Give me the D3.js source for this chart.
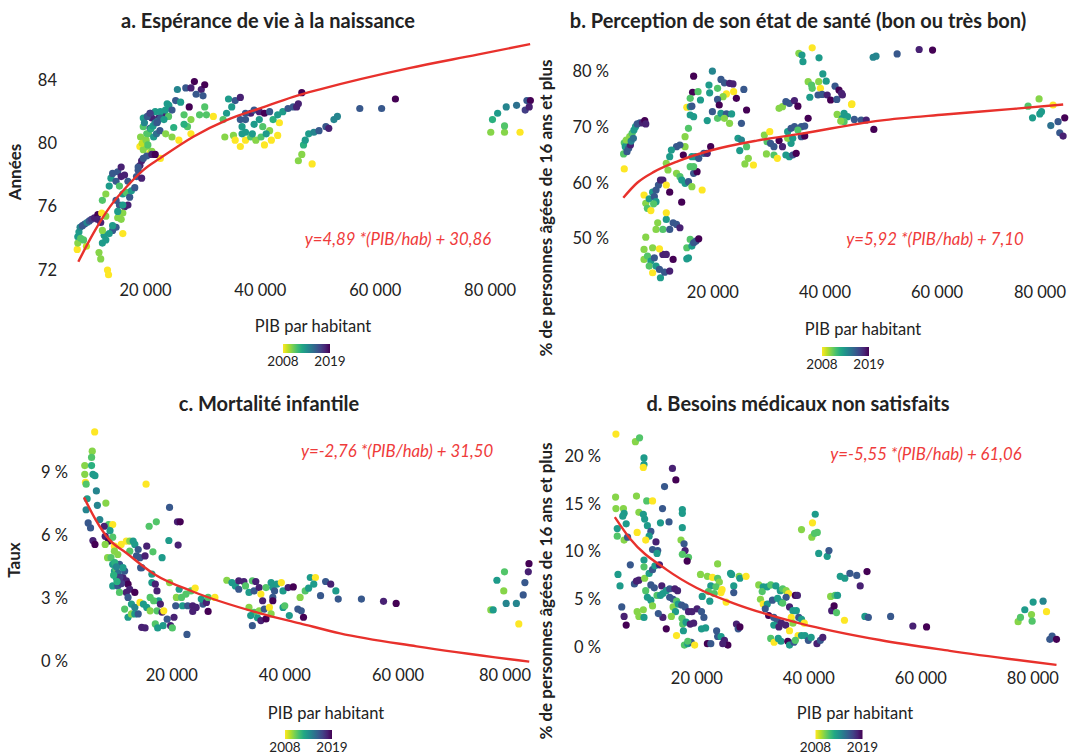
<!DOCTYPE html>
<html>
<head>
<meta charset="utf-8">
<script src="https://cdn.jsdelivr.net/npm/d3@7"></script>
<style>
  body { margin: 0; background: #fff; }
  svg text { font-family: Lato, "Open Sans", sans-serif; fill: #222; }
</style>
</head>
<body>
<div id="chart"></div>
<script>
// tick values
var gdpTicks = [20000, 40000, 60000, 80000];
var ticksA = [72, 76, 80, 84];
var ticksB = [50, 60, 70, 80];
var ticksC = [0, 3, 6, 9];
var ticksD = [0, 5, 10, 15, 20];
var years = [2008, 2019];

// [PIB par habitant, valeur, année]
var esperance = [
  [8300,74.1,2013],[8500,74.4,2013],[8700,74.7,2014],[9100,74.8,2016],[9500,74.9,2016],[9900,75.0,2014],[10300,75.1,2016],[10700,75.2,2017],[11200,75.3,2018],[11800,75.5,2019],
  [8200,73.3,2008],[8300,73.7,2010],[8800,74.0,2011],[9800,73.5,2009],[9300,73.9,2011],
  [12580,76.4,2011],[13180,76.8,2010],[13770,77.3,2013],[14070,77.8,2013],[14360,78.1,2016],[15250,78.2,2016],[15850,78.5,2018],[14960,77.6,2016],[15850,77.9,2018],[16440,78.0,2018],
  [17030,77.6,2016],[15550,77.3,2011],[16140,76.8,2013],[16740,76.9,2011],[17330,76.6,2016],[17630,77.0,2013],[18220,77.2,2016],[18520,77.9,2016],[18810,78.3,2016],[19110,78.6,2018],
  [19410,77.8,2018],[14960,76.4,2016],[15550,76.1,2016],[16440,76.0,2018],[17030,76.1,2018],[16140,75.6,2010],[15850,75.2,2010],[15250,75.3,2010],[14960,74.7,2016],[14360,74.5,2016],
  [13770,74.3,2013],[12880,74.2,2013],[12580,73.7,2013],[13180,73.9,2013],[14360,74.8,2013],[13180,75.4,2010],[12460,75.6,2008],[11690,75.2,2018],[12290,75.0,2018],[12580,74.5,2010],
  [16140,74.3,2008],[15250,75.7,2013],[16140,76.1,2013],[11990,73.1,2010],[12290,72.7,2010],[13470,72.0,2008],[13650,71.7,2008],
  [19110,79.8,2008],[19700,79.6,2010],[20300,79.8,2010],[20890,79.4,2008],[21190,79.5,2010],[22670,79.05,2008],[18810,78.5,2016],[19410,78.9,2018],[20300,79.2,2016],[21190,79.3,2018],[21780,79.3,2019],[19700,79.05,2016],
  [19700,81.6,2013],[19700,81.05,2011],[20300,80.6,2011],[19230,80.4,2010],[20890,80.95,2016],[21780,81.3,2016],[22370,81.6,2018],[23260,81.8,2018],[23560,82.1,2013],[24150,82.4,2013],
  [20890,81.9,2018],[21780,82.0,2013],[22670,82.0,2013],[21190,81.6,2018],[19500,80.0,2009],[20200,80.2,2010],[20600,80.6,2011],[21000,80.9,2012],[21400,81.1,2013],[21800,81.3,2014],
  [22200,81.4,2015],[22700,81.6,2016],[20500,79.9,2011],[21500,80.4,2013],[22000,80.6,2015],[22600,80.8,2016],[19900,81.3,2014],[20400,81.7,2016],[20900,81.9,2017],
  [23860,82.5,2013],[25340,82.7,2016],[25640,83.4,2014],[27100,83.5,2016],[28000,83.5,2018],[28600,83.9,2019],[29800,83.4,2018],[30400,83.7,2019],[28900,83.1,2016],[30100,83.0,2016],
  [30400,82.3,2011],[27700,82.3,2019],[26200,82.6,2013],[24700,82.1,2016],[24100,81.7,2011],[23300,81.5,2013],[22100,81.3,2016],[26800,81.8,2011],[27400,81.05,2011],[28000,81.5,2010],
  [29500,81.8,2011],[30700,81.8,2011],[31900,81.7,2008],[23600,80.6,2010],[24700,80.4,2010],[25900,80.2,2008],[28000,80.6,2008],[26800,81.2,2012],[25000,81.0,2012],
  [34540,82.8,2013],[35700,82.7,2016],[36600,82.9,2018],[35100,82.3,2013],[34200,81.9,2013],[33600,81.5,2011],[33900,80.4,2010],[35400,80.5,2010],[35700,80.2,2008],[36600,79.8,2008],
  [37500,80.2,2008],[38400,80.4,2011],[39300,80.2,2010],[40200,80.4,2011],[40800,79.9,2008],[42000,80.2,2008],[43100,80.5,2008],[43400,81.3,2008],[41700,80.8,2010],
  [36900,81.05,2013],[37500,81.5,2016],[38400,81.9,2018],[39000,82.1,2016],[39900,82.0,2018],[40800,81.9,2019],[41700,82.0,2016],[39900,81.5,2013],[39000,81.2,2013],[37500,80.7,2013],
  [40500,81.05,2011],[41100,80.6,2013],[42300,81.5,2012],[43100,81.8,2013],[44000,82.0,2013],[44900,82.2,2016],[45800,82.3,2016],[46700,82.5,2018],[47300,83.2,2019],[46400,82.3,2018],
  [38700,80.6,2013],[36900,80.6,2013],[37500,81.9,2016],[36600,81.5,2016],
  [46700,78.9,2010],[47300,79.3,2010],[49100,78.7,2008],[47600,79.9,2012],[47900,80.2,2013],[48500,80.6,2013],[49400,80.7,2014],[50300,80.8,2016],[51500,81.05,2016],[52000,80.95,2018],
  [52900,81.5,2014],[53500,81.7,2014],[57400,82.2,2016],[61200,82.2,2016],[63600,82.8,2019],
  [80200,80.7,2010],[80500,81.5,2012],[81400,81.9,2013],[82900,82.3,2014],[82600,80.7,2010],[82600,81.1,2011],[84700,82.4,2015],[85300,80.7,2008],[86200,82.1,2017],[86500,82.7,2016],
  [87100,82.7,2019],[86900,82.3,2018]
];

var perception = [
  [4150,65.2,2011],[4270,67.2,2011],[4450,66.5,2013],[4760,65.6,2016],[5060,66.2,2016],[5370,66.8,2018],[5240,68.3,2010],[5670,68.9,2011],[6000,69.5,2013],[6280,70.1,2013],
  [6590,70.6,2016],[7070,70.8,2016],[7500,70.8,2018],[7930,71.2,2019],[8110,70.6,2018],[4270,62.5,2008],[4630,67.7,2010],[5500,67.5,2014],[5900,68.0,2015],
  [7800,57.8,2008],[8110,56.3,2010],[8400,55.4,2011],[8720,57.1,2013],[9330,58.3,2013],[9640,57.5,2016],[9940,58.7,2016],[10370,59.6,2016],[10730,60.5,2018],[11160,60.5,2018],
  [11770,59.6,2008],[12380,58.3,2019],[9020,55.0,2008],[9940,56.6,2013],[9510,56.2,2011],
  [10240,52.8,2010],[9940,51.6,2010],[11160,51.6,2011],[11770,53.4,2013],[11770,54.6,2008],[12380,51.6,2016],[12990,52.8,2016],[13600,52.5,2016],[14210,51.9,2018],
  [8110,50.2,2010],[7800,48.0,2010],[7800,46.2,2010],[8420,46.8,2011],[9020,45.9,2013],[8720,45.0,2011],[9330,48.3,2010],[9640,46.5,2016],[9330,43.8,2008],[9940,45.0,2013],
  [10550,44.4,2016],[10730,42.9,2013],[11470,43.9,2016],[12380,44.1,2018],[11160,47.1,2018],[11770,47.1,2018],[10550,48.1,2008],[12990,46.2,2019],
  [15430,48.3,2011],[15730,46.5,2013],[16040,49.8,2011],[16340,48.6,2013],[16650,49.2,2016],[17070,49.5,2016],[17560,49.9,2019],[15430,46.3,2013],
  [16650,79.2,2019],[16460,76.3,2019],[15430,73.6,2008],[16040,75.2,2011],[16040,73.7,2013],[16340,73.8,2016],[17870,74.9,2013],[17440,76.4,2011],[16040,72.2,2013],[16650,71.9,2013],
  [15730,69.8,2011],[15120,68.3,2010],[15120,66.5,2010],[14200,66.8,2016],[13600,66.5,2016],[12680,65.9,2013],[12380,64.7,2013],[11770,63.5,2010],[12070,62.3,2010],[13600,61.7,2010],
  [14210,61.1,2011],[14520,60.5,2013],[15120,59.9,2013],[15730,60.2,2016],[16650,61.7,2016],[17260,62.0,2019],[16040,62.9,2011],[16340,64.7,2013],[16960,64.7,2013],[17560,64.4,2016],
  [18470,65.3,2016],[19080,65.3,2018],[19690,66.5,2019],[14810,65.0,2019],[14520,56.5,2019],[18170,58.7,2008],[16340,59.3,2010],[16650,62.9,2011],
  [20000,80.1,2014],[19390,77.6,2013],[19510,76.2,2013],[20920,77.0,2011],[21530,78.6,2016],[22140,78.0,2016],[23060,77.9,2018],[23670,77.8,2018],[23790,76.4,2008],[22500,76.0,2008],
  [21900,75.5,2010],[20920,75.0,2016],[21220,74.0,2019],[20000,72.8,2016],[19080,71.2,2013],[20920,71.6,2011],[21530,72.5,2013],[22500,72.4,2016],[23430,72.4,2013],[23060,70.7,2010],
  [22140,71.6,2010],[24280,75.2,2019],[25610,76.8,2016],[26100,73.1,2019],[25180,70.7,2016],[24570,68.0,2013],[24880,65.8,2013],[25180,67.7,2014],[26100,66.5,2011],[26410,64.4,2010],
  [25800,63.4,2010],[27320,63.2,2008],
  [29270,68.6,2010],[30240,69.2,2008],[29760,67.4,2011],[30370,67.1,2016],[30980,66.5,2016],[31900,67.6,2019],[32510,66.5,2018],[29640,65.2,2010],[30980,65.0,2011],[31590,64.4,2008],
  [31900,73.4,2010],[32510,73.7,2010],[33120,74.6,2016],[33730,74.3,2016],[34640,74.8,2018],[35260,73.8,2019],[33120,65.0,2013],[33730,64.7,2013],[34340,65.0,2016],[34950,65.3,2019],
  [34040,67.1,2013],[33430,69.2,2013],[34040,69.8,2016],[34650,70.1,2016],[35870,70.1,2016],[36480,70.2,2016],[35260,69.5,2011],[35870,68.3,2016],[36480,68.4,2019],[37090,71.6,2019],
  [33430,68.0,2010],[34340,68.0,2013],
  [35430,83.3,2010],[35980,83.0,2013],[36160,81.8,2013],[37810,84.3,2008],[39030,82.5,2013],[37090,78.2,2010],[37700,77.6,2011],[37810,77.0,2011],[37390,75.4,2013],[38970,78.2,2010],
  [39280,77.0,2008],[39710,79.6,2013],[40310,78.3,2013],[38850,75.8,2016],[39580,75.9,2016],[40490,75.8,2018],[41100,74.9,2019],[41890,77.4,2016],[42200,75.0,2016],[42590,76.7,2019],
  [43200,75.8,2018],[44900,74.2,2008],
  [42260,72.3,2010],[43200,71.6,2013],[43500,72.5,2013],[44110,71.9,2013],[45330,71.4,2016],[46550,71.3,2016],[47460,71.3,2018],[48810,69.6,2019],[43500,71.0,2011],[42900,71.1,2010],
  [44830,74.1,2008],[43050,76.1,2018],
  [48690,82.6,2014],[49200,82.8,2014],[52970,83.2,2016],[56900,84.0,2018],[59290,83.9,2019],
  [76340,73.8,2011],[78300,75.1,2010],[80800,74.0,2008],[77130,71.7,2013],[78430,72.4,2013],[78730,72.8,2013],[80390,70.3,2015],[81690,71.0,2016],[82880,71.7,2019],[81990,69.0,2016],
  [82590,68.4,2018]
];

var mortalite = [
  [6450,10.95,2008],[6020,10.03,2010],[5900,9.73,2011],[4700,9.34,2010],[5900,9.34,2012],[4700,8.92,2010],[6140,8.92,2013],[6500,8.86,2013],[4820,8.54,2008],[4940,8.45,2011],
  [6750,8.13,2014],[5120,7.75,2013],[8430,7.55,2010],[6930,7.44,2014],[4940,7.23,2014],[5300,6.6,2016],[5720,6.36,2016],[7350,6.76,2014],[8910,6.52,2011],[9640,6.52,2008],
  [8130,6.44,2018],[9160,6.23,2013],[6140,5.76,2018],[6500,5.57,2019],[8310,5.96,2018],[8910,5.73,2019],[8310,5.57,2010],[9940,5.49,2008],[9640,5.92,2011],[15540,8.45,2008],
  [8730,4.94,2010],[9340,4.94,2011],[9640,4.62,2013],[9940,4.3,2013],[10240,3.99,2013],[9640,3.59,2013],[10540,3.59,2016],[10840,3.83,2016],[11450,3.99,2018],[11750,4.3,2016],
  [12050,3.83,2018],[12350,3.67,2019],[12650,3.43,2018],[13550,3.28,2019],[12050,3.28,2018],[12350,3.04,2016],[10840,3.28,2011],[10240,4.38,2011],[10840,4.62,2016],[11450,4.46,2013],
  [10540,5.09,2010],[9940,5.25,2010],[11140,5.57,2008],[12050,5.73,2008],[12650,5.73,2010],[13250,5.73,2013],[12650,5.25,2011],[13550,5.57,2013],[14150,5.33,2016],[14460,4.94,2016],
  [13850,5.02,2016],[14760,4.46,2016],[11750,2.48,2011],[12350,2.09,2013],[12950,2.25,2010],[13550,2.25,2013],[14150,2.25,2016],[12950,2.72,2013],[13550,2.56,2014],
  [10000,4.7,2012],[10300,4.5,2014],[10600,4.2,2015],[10900,4.0,2017],[11200,3.7,2017],[10400,3.8,2012],[9800,4.1,2012],
  [14460,2.8,2008],[15060,2.72,2013],[15660,2.56,2013],[16260,3.04,2011],[16570,3.75,2013],[16570,4.15,2013],[17170,3.67,2018],[17470,3.35,2018],[17770,2.88,2013],[16870,2.88,2011],
  [16260,2.4,2010],[17470,2.4,2011],[18070,2.72,2018],[18370,2.33,2018],[18670,2.4,2008],[14760,1.61,2018],[15360,1.58,2018],[17170,1.77,2011],[17590,1.58,2013],[18550,1.69,2013],
  [19270,2.0,2016],[19870,1.69,2018],[20180,1.58,2011],[20480,2.09,2018],[22770,1.27,2016],[19690,7.34,2016],[19570,5.76,2013],[21090,6.65,2018],[21570,6.65,2019],[21210,5.54,2018],
  [16080,6.44,2011],[17350,6.65,2011],[18370,4.94,2013],[16750,5.22,2011],[15660,5.49,2018],[15360,5.02,2018],[14580,4.46,2016],[19690,3.75,2010],[21390,3.43,2013],[20900,3.04,2010],
  [21810,3.04,2011],[22590,3.2,2011],[23490,3.35,2011],[24220,3.48,2008],[20780,2.64,2016],[21990,2.64,2013],[22890,2.64,2016],[23790,2.64,2018],[24400,2.56,2018],[23790,2.37,2018],
  [25600,2.72,2016],[25300,2.96,2013],[26210,2.8,2018],[26510,2.37,2019],[26510,3.04,2011],[27710,3.04,2008],
  [29820,3.86,2010],[30720,3.75,2013],[31330,3.59,2013],[31930,3.83,2018],[32830,3.8,2018],[31930,3.43,2016],[33130,3.59,2011],[33740,3.28,2013],[34340,3.83,2011],[34940,3.8,2018],
  [34640,3.35,2016],[35540,3.51,2018],[35840,3.2,2008],[36150,2.88,2018],[36750,3.51,2011],[37650,3.75,2013],[37950,3.51,2013],[38260,3.35,2016],[38670,3.67,2013],[39460,3.75,2008],
  [39760,3.35,2013],[40660,3.51,2018],[41570,3.54,2019],[37950,3.04,2016],[33740,2.56,2010],[34640,2.33,2011],[35540,2.4,2010],[36450,2.48,2016],[37350,2.56,2008],[37650,2.25,2010],
  [34040,2.17,2013],[35240,2.06,2013],[34340,1.69,2016],[35840,1.93,2018],[36750,2.01,2019],[37950,2.88,2019],[39760,2.56,2013],[40060,2.64,2011],[40870,2.17,2013],[42380,2.48,2016],
  [42980,2.4,2016],[43380,2.09,2019],[42780,3.04,2010],[43680,3.35,2011],[44280,3.48,2013],[44580,3.99,2013],[45490,3.99,2008],[45190,3.67,2013],[46390,3.12,2016],[47290,3.8,2016],
  [48190,3.67,2018],[49100,3.35,2013],[49520,2.96,2016],[53620,2.96,2016],[57530,2.85,2018],[59760,2.75,2019],
  [76500,2.44,2010],[76920,2.44,2013],[77580,3.86,2013],[78920,4.26,2011],[78790,3.35,2010],[79220,2.75,2014],[81020,2.75,2014],[81450,1.77,2008],[82230,3.16,2016],[82530,3.75,2016],
  [83130,4.26,2018],[83250,4.65,2019]
];

var besoins = [
  [5630,22.3,2008],[9110,21.5,2010],[9850,21.9,2011],[10640,19.8,2013],[10640,19.1,2013],[10520,18.8,2008],[15720,18.7,2018],[16330,17.5,2019],[14310,16.8,2016],[5570,15.7,2010],
  [9300,15.8,2010],[5630,14.5,2010],[6970,14.5,2010],[11130,15.3,2011],[12170,15.3,2008],[7090,14.0,2013],[6850,13.7,2013],[9730,14.1,2010],[10520,13.9,2013],[10760,13.4,2013],
  [9420,12.0,2008],[11250,12.7,2013],[11870,12.1,2016],[11560,11.6,2013],[10950,11.2,2008],[5870,12.4,2013],[5870,11.6,2011],[7090,11.2,2010],[7460,12.9,2013],[7710,11.5,2016],
  [13580,13.0,2013],[13950,14.5,2016],[15110,13.1,2016],[17490,14.4,2013],[17490,14.0,2013],[17490,12.5,2013],[17250,11.2,2010],[17800,10.8,2016],[17980,10.1,2018],[17490,9.7,2011],
  [18590,9.4,2011],[18350,9.0,2019],[12780,11.0,2018],[12170,10.2,2016],[13090,10.1,2016],[12970,9.8,2013],[10640,9.1,2013],[10640,8.4,2011],[8200,8.6,2016],[6000,7.6,2013],
  [6360,6.4,2013],[8930,6.6,2016],[9300,6.9,2018],[9730,7.0,2018],[10760,7.2,2010],[11560,7.7,2013],[12170,8.1,2016],[12600,8.5,2013],[13400,8.6,2018],[11870,6.5,2016],
  [12480,6.2,2016],[13820,6.4,2018],[10950,5.9,2011],[11250,5.2,2013],[11870,4.9,2013],[12170,4.3,2010],[12970,5.4,2011],[13580,5.4,2013],[14010,5.6,2013],[14620,5.9,2013],
  [15230,6.1,2016],[16150,6.1,2018],[16640,5.9,2018],[15230,5.2,2016],[15840,5.0,2016],[16460,4.8,2011],[15840,4.2,2010],[16270,3.7,2013],[15530,3.2,2010],[16760,4.5,2013],
  [17370,4.4,2016],[17980,4.2,2016],[18590,3.7,2018],[19200,3.7,2018],[20120,4.0,2018],[20910,3.7,2016],[21340,3.1,2016],[17430,3.0,2011],[17550,2.4,2011],[18160,2.6,2013],
  [18900,2.4,2018],[19510,2.5,2018],[20910,1.9,2013],[21650,2.0,2013],[16450,1.2,2008],[17680,1.7,2013],[17860,0.2,2011],[18470,0.35,2013],[19080,0.5,2016],[19690,0.2,2008],
  [18470,0.6,2011],[21960,0.35,2019],[22570,0.35,2016],[23610,1.7,2016],[23790,1.1,2016],[24400,1.1,2013],[25010,0.7,2018],[25620,0.2,2019],[24710,0.35,2018],[27150,2.4,2018],
  [27460,1.9,2016],[27770,2.1,2019],
  [6670,4.2,2016],[7090,3.2,2018],[7460,2.3,2019],[9420,3.7,2010],[9730,3.2,2010],[10640,3.1,2013],[10520,3.9,2010],[14010,3.1,2018],[14620,1.9,2019],[13200,3.5,2016],
  [20730,7.6,2010],[21960,7.4,2010],[22880,7.3,2008],[23790,7.2,2011],[24100,6.8,2010],[23790,8.7,2010],[22570,6.4,2013],[23490,6.3,2011],[24580,6.0,2008],[24400,5.7,2008],
  [23180,5.6,2011],[22140,5.8,2011],[21040,5.3,2013],[22390,4.8,2013],[25310,4.7,2008],[26100,7.7,2013],[26280,7.6,2013],[27640,7.4,2010],[27770,7.2,2013],[28870,7.4,2008],
  [26670,6.4,2013],[26670,5.7,2016],
  [31130,6.5,2010],[31930,6.3,2013],[31750,5.8,2011],[32660,6.3,2013],[33270,6.5,2011],[34190,6.4,2013],[34980,5.9,2013],[35410,6.1,2011],[36020,5.9,2010],[36450,5.6,2008],
  [37670,5.4,2019],[38040,5.4,2018],[31440,5.0,2010],[31930,4.5,2008],[32660,4.5,2013],[33580,4.9,2016],[34500,5.1,2013],[35110,4.7,2013],[36020,5.2,2016],[35410,4.6,2011],
  [36630,4.2,2018],[37240,3.8,2013],[37850,3.8,2013],[38280,3.1,2016],[38770,2.9,2013],[39260,2.5,2008],[32290,4.0,2016],[32900,3.3,2019],[33820,3.1,2016],[34430,2.8,2016],
  [35170,2.5,2018],[35960,2.3,2018],[33820,2.3,2013],[34740,2.1,2018],[36630,1.7,2008],[36940,3.1,2008],[37240,2.5,2010],[33270,0.9,2011],[33880,0.5,2008],[34620,0.9,2013],
  [35110,0.6,2013],[36320,0.6,2019],[36630,0.2,2013],[37420,0.5,2016],[38160,1.2,2008],[38770,1.2,2013],[39380,1.2,2013],[40000,0.7,2016],[40490,1.0,2013],[41530,0.35,2018],
  [42140,0.7,2016],[42570,1.0,2018],[37670,0.7,2011],
  [38770,12.3,2010],[40730,13.0,2008],[41220,13.9,2013],[40610,11.5,2010],[41100,11.9,2011],[41590,12.0,2011],[41840,9.8,2013],[43360,9.5,2013],[43670,10.1,2016],[43970,5.3,2010],
  [44770,5.4,2011],[45200,5.4,2013],[44160,3.8,2018],[44590,4.3,2019],[45020,3.6,2011],[45690,7.4,2013],[46500,7.2,2013],[47410,7.7,2016],[48630,7.5,2016],[50470,7.9,2019],
  [49250,6.4,2018],[46440,2.8,2008],[50090,3.2,2013],[50700,3.1,2016],[54680,3.2,2016],[58650,2.2,2018],[61100,2.1,2019],
  [77450,2.65,2010],[77870,3.1,2011],[78640,3.9,2013],[79840,3.4,2010],[79950,2.7,2011],[80130,4.7,2013],[81910,4.8,2014],[82520,3.7,2008],[83110,0.8,2016],[83520,1.15,2016],
  [84300,0.8,2019]
];

// courbes d'ajustement
var fitA = [[8390,72.52],[11000,74.31],[13910,76.0],[16810,77.26],[19700,78.31],[22610,79.05],[28410,80.42],[34220,81.47],[40020,82.21],[45810,82.94],[50460,83.41],[66000,84.75],[77870,85.6],[87060,86.27]];
var fitB = [[4100,57.3],[6590,60.0],[9640,62.0],[13900,63.9],[20000,65.9],[27930,67.6],[35610,68.8],[49890,71.2],[61470,72.3],[73670,73.3],[82600,74.1]];
var fitC = [[4560,7.82],[6630,6.75],[9040,5.8],[12110,5.15],[17000,4.15],[23890,3.31],[35690,2.28],[42760,1.8],[49830,1.32],[63400,0.7],[83300,-0.03]];
var fitD = [[5430,13.6],[8200,11.3],[14660,8.1],[20000,6.2],[26550,4.6],[38460,2.48],[52750,0.73],[65250,-0.4],[84300,-1.88]];

var panels = [
  { data: esperance, fit: fitA, title: "a. Espérance de vie à la naissance", titleX: 268, titleY: 21,
    yTitle: "Années", yTitleX: 15, yTitleY: 172, yTicks: ticksA, yFmt: function (d) { return d; },
    yDomain: [72, 84], yRange: [270, 80], yAxisX: 57,
    xRange: [145, 489.6], xLabelY: 295, xTitleX: 313, xTitleY: 326, right: 531,
    legX: 283, legY: 344, legLabY: 361,
    formula: "y=4,89 *(PIB/hab) + 30,86", fx: 398, fy: 239 },
  { data: perception, fit: fitB, title: "b. Perception de son état de santé (bon ou très bon)", titleX: 798, titleY: 21,
    yTitle: "% de personnes âgées de 16 ans et plus", yTitleX: 546, yTitleY: 208, yTicks: ticksB, yFmt: function (d) { return d + " %"; },
    yDomain: [50, 80], yRange: [238.3, 71.7], yAxisX: 609,
    xRange: [712.4, 1048.6], xLabelY: 297, xTitleX: 863, xTitleY: 329, right: 1066,
    legX: 822, legY: 347, legLabY: 364,
    formula: "y=5,92 *(PIB/hab) + 7,10", fx: 935, fy: 239 },
  { data: mortalite, fit: fitC, title: "c. Mortalité infantile", titleX: 269, titleY: 404,
    yTitle: "Taux", yTitleX: 14, yTitleY: 560, yTicks: ticksC, yFmt: function (d) { return d + " %"; },
    yDomain: [0, 9], yRange: [661, 472.7], yAxisX: 68,
    xRange: [171.3, 510.6], xLabelY: 680, xTitleX: 326, xTitleY: 713, right: 531,
    legX: 285, legY: 730, legLabY: 747,
    formula: "y=-2,76 *(PIB/hab) + 31,50", fx: 397, fy: 451 },
  { data: besoins, fit: fitD, title: "d. Besoins médicaux non satisfaits", titleX: 798, titleY: 404,
    yTitle: "% de personnes âgées de 16 ans et plus", yTitleX: 546, yTitleY: 591, yTicks: ticksD, yFmt: function (d) { return d + " %"; },
    yDomain: [0, 20], yRange: [647, 456], yAxisX: 601,
    xRange: [696.4, 1032.4], xLabelY: 683, xTitleX: 855, xTitleY: 713, right: 1066,
    legX: 815.5, legY: 730, legLabY: 747,
    formula: "y=-5,55 *(PIB/hab) + 61,06", fx: 926, fy: 454 }
];

var width = 1070, height = 754;
var svg = d3.select("#chart").append("svg")
  .attr("width", width)
  .attr("height", height);

// viridis reversed: 2008 yellow -> 2019 purple
var color = function (year) {
  return d3.interpolateViridis(1 - (year - years[0]) / (years[1] - years[0]));
};

// legend gradient
var grad = svg.append("defs").append("linearGradient")
  .attr("id", "yearGrad");
d3.range(0, 1.01, 0.1).forEach(function (t) {
  grad.append("stop")
    .attr("offset", (t * 100) + "%")
    .attr("stop-color", d3.interpolateViridis(1 - t));
});

var fmtGdp = function (d) { return d3.format(",")(d).replace(/,/g, " "); };

panels.forEach(function (p) {
  var g = svg.append("g");

  var x = d3.scaleLinear().domain([20000, 80000]).range(p.xRange);
  var y = d3.scaleLinear().domain(p.yDomain).range(p.yRange);

  // points
  g.selectAll("circle")
    .data(p.data)
    .enter().append("circle")
    .attr("cx", function (d) { return x(d[0]); })
    .attr("cy", function (d) { return y(d[1]); })
    .attr("r", 3.6)
    .attr("fill", function (d) { return color(d[2]); });

  // fitted curve
  var line = d3.line()
    .x(function (d) { return x(d[0]); })
    .y(function (d) { return y(d[1]); })
    .curve(d3.curveMonotoneX);

  g.append("path")
    .datum(p.fit)
    .attr("d", line)
    .attr("fill", "none")
    .attr("stroke", "#e8312c")
    .attr("stroke-width", 2.4);

  // x axis
  var xAxis = g.append("g")
    .attr("transform", "translate(0," + (p.xLabelY - 17) + ")")
    .call(d3.axisBottom(x).tickValues(gdpTicks).tickSize(0).tickPadding(6).tickFormat(fmtGdp));
  xAxis.select(".domain").remove();
  xAxis.selectAll("text")
    .style("font-size", "16.5px")
    .style("font-family", "Lato, sans-serif")
    .attr("fill", "#222")
    .each(function () {
      // keep labels inside the panel
      var tx = +this.parentNode.getAttribute("transform").match(/translate\(([^,]+)/)[1];
      var w = this.getComputedTextLength();
      if (tx + w / 2 > p.right) d3.select(this).attr("x", p.right - w / 2 - tx);
    });

  // y axis
  var yAxis = g.append("g")
    .attr("transform", "translate(" + p.yAxisX + ",0)")
    .call(d3.axisLeft(y).tickValues(p.yTicks).tickSize(0).tickPadding(0).tickFormat(p.yFmt));
  yAxis.select(".domain").remove();
  yAxis.selectAll("text")
    .style("font-size", "16.5px")
    .style("font-family", "Lato, sans-serif")
    .attr("fill", "#222");

  // titles
  g.append("text")
    .attr("x", p.titleX)
    .attr("y", p.titleY)
    .attr("dy", "0.35em")
    .attr("text-anchor", "middle")
    .style("font-size", "20px")
    .style("font-weight", "bold")
    .text(p.title);

  g.append("text")
    .attr("transform", "translate(" + p.yTitleX + "," + p.yTitleY + ") rotate(-90)")
    .attr("dy", "0.35em")
    .attr("text-anchor", "middle")
    .style("font-size", "17px")
    .style("font-weight", "bold")
    .text(p.yTitle);

  g.append("text")
    .attr("x", p.xTitleX)
    .attr("y", p.xTitleY)
    .attr("dy", "0.35em")
    .attr("text-anchor", "middle")
    .style("font-size", "16.5px")
    .text("PIB par habitant");

  // formula
  g.append("text")
    .attr("x", p.fx)
    .attr("y", p.fy)
    .attr("dy", "0.35em")
    .attr("text-anchor", "middle")
    .style("font-size", "16.8px")
    .style("font-style", "italic")
    .style("fill", "#ef3b3b")
    .text(p.formula);

  // year legend
  g.append("rect")
    .attr("x", p.legX)
    .attr("y", p.legY)
    .attr("width", 47)
    .attr("height", 9)
    .attr("fill", "url(#yearGrad)");

  g.selectAll(".leglab")
    .data(years)
    .enter().append("text")
    .attr("x", function (d, i) { return p.legX + i * 47; })
    .attr("y", p.legLabY)
    .attr("dy", "0.35em")
    .attr("text-anchor", "middle")
    .style("font-size", "13.5px")
    .text(function (d) { return d; });
});
</script>
</body>
</html>
